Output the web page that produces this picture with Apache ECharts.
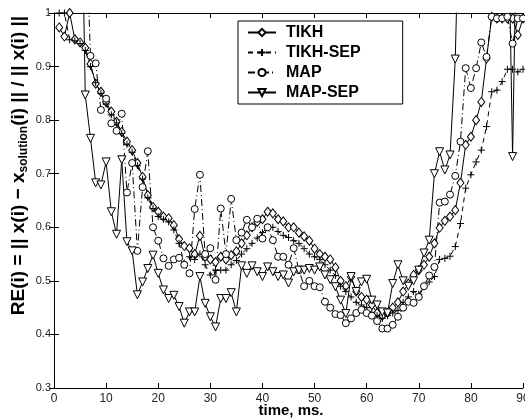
<!DOCTYPE html>
<html><head><meta charset="utf-8">
<script src="https://cdn.jsdelivr.net/npm/echarts@6/dist/echarts.min.js"></script>
<style>html,body{margin:0;padding:0;background:#fff}#c{width:525px;height:418px}</style>
</head><body><div id="c"></div>
<script>
const times = [1,2,3,4,5,6,7,8,9,10,11,12,13,14,15,16,17,18,19,20,21,22,23,24,25,26,27,28,29,30,
31,32,33,34,35,36,37,38,39,40,41,42,43,44,45,46,47,48,49,50,51,52,53,54,55,56,57,58,59,60,
61,62,63,64,65,66,67,68,69,70,71,72,73,74,75,76,77,78,79,80,81,82,83,84,85,86,87,88,89,90];
const xTicks = [0,10,20,30,40,50,60,70,80,90];
const yTicks = [0.3,0.4,0.5,0.6,0.7,0.8,0.9,1];
const names = ['TIKH','TIKH-SEP','MAP','MAP-SEP'];
const tikh = [0.973,0.956,1.0,0.951,0.945,0.935,0.905,0.868,0.853,0.834,
0.816,0.797,0.778,0.76,0.744,0.72,0.694,0.66,0.638,0.629,
0.62,0.617,0.604,0.578,0.565,0.561,0.55,0.584,0.545,0.54,
0.535,0.545,0.54,0.548,0.555,0.57,0.585,0.6,0.61,0.615,
0.629,0.626,0.615,0.611,0.6,0.6,0.59,0.583,0.575,0.56,
0.55,0.545,0.54,0.525,0.5,0.49,0.507,0.48,0.47,0.465,
0.455,0.44,0.435,0.44,0.45,0.46,0.48,0.495,0.511,0.52,
0.53,0.545,0.57,0.599,0.612,0.62,0.632,0.683,0.754,0.769,
0.8,0.834,0.915,0.993,0.99,0.99,0.99,0.99,0.959,0.99];
const tikhSep = [1.0,1.0,0.95,0.948,0.943,0.93,0.9,0.87,0.85,0.83,
0.81,0.795,0.775,0.755,0.74,0.715,0.69,0.655,0.635,0.62,
0.615,0.61,0.595,0.57,0.533,0.545,0.54,0.55,0.53,0.511,
0.52,0.52,0.52,0.53,0.538,0.55,0.56,0.57,0.58,0.59,
0.6,0.6,0.592,0.585,0.581,0.575,0.57,0.56,0.55,0.545,
0.54,0.53,0.52,0.51,0.49,0.48,0.47,0.46,0.455,0.45,
0.44,0.435,0.43,0.435,0.44,0.445,0.46,0.47,0.48,0.475,
0.49,0.498,0.508,0.54,0.542,0.546,0.564,0.607,0.673,0.698,
0.722,0.744,0.788,0.853,0.856,0.872,0.895,0.895,0.89,0.895];
const map = [1.2,1.2,1.2,1.2,1.2,1.2,0.92,0.906,0.819,0.84,
0.794,0.78,0.812,0.665,0.72,0.556,0.675,0.742,0.6,0.575,
0.542,0.528,0.54,0.543,0.53,0.514,0.634,0.698,0.55,0.561,
0.502,0.635,0.55,0.653,0.576,0.59,0.614,0.6,0.616,0.579,
0.6,0.576,0.545,0.545,0.53,0.561,0.52,0.49,0.5,0.49,
0.488,0.461,0.45,0.438,0.436,0.421,0.43,0.44,0.446,0.44,
0.435,0.425,0.411,0.411,0.418,0.433,0.45,0.461,0.459,0.47,
0.49,0.51,0.526,0.646,0.648,0.661,0.696,0.76,0.897,0.86,
0.897,0.945,0.918,0.993,0.99,0.99,0.993,0.943,0.99,0.99];
const mapSep = [1.4,1.4,1.4,1.4,1.4,0.847,0.766,0.683,0.679,0.722,
0.629,0.587,0.726,0.573,0.556,0.474,0.498,0.523,0.548,0.514,
0.483,0.467,0.473,0.452,0.421,0.442,0.442,0.508,0.458,0.433,
0.414,0.467,0.467,0.478,0.442,0.528,0.514,0.528,0.517,0.508,
0.526,0.517,0.508,0.511,0.496,0.517,0.52,0.52,0.523,0.52,
0.526,0.511,0.502,0.489,0.464,0.439,0.508,0.48,0.498,0.503,
0.464,0.455,0.442,0.44,0.495,0.53,0.5,0.49,0.5,0.52,
0.552,0.576,0.70,0.741,0.707,0.735,0.914,1.3,1.3,1.3,
1.3,1.3,1.3,1.3,1.3,1.3,1.3,0.732,1.3,1.3];

const FONT = 'Liberation Sans, Arial, sans-serif';
const pairs = arr => times.map((t, i) => [t, arr[i]]);
const fmtY = v => { const r = Math.round(v * 10) / 10; return yTicks.indexOf(r) >= 0 ? String(r) : ''; };
const fmtX = v => xTicks.indexOf(v) >= 0 ? String(v) : '';

function mk(name, data, symbol, size, lineType, rot) {
  return {
    name, type: 'line', data: pairs(data), symbol, symbolSize: size, symbolRotate: rot || 0,
    showAllSymbol: true, clip: true, animation: false,
    lineStyle: { color: '#000', width: 1, type: lineType },
    itemStyle: { color: '#fff', borderColor: '#000', borderWidth: 1 },
    emphasis: { disabled: true }
  };
}
const plusPath = 'path://M0,-5L0,5M-5,0L5,0';

const axisCommon = {
  axisLine: { show: true, lineStyle: { color: '#000', width: 1 } },
  axisTick: { show: true, inside: true, length: 5, lineStyle: { color: '#000' } },
  splitLine: { show: false },
  nameMoveOverlap: false
};

const chart = echarts.init(document.getElementById('c'), null, { renderer: 'canvas' });
chart.setOption({
  animation: false,
  backgroundColor: '#fff',
  grid: { left: 54, right: 2, top: 13, bottom: 30, containLabel: false, outerBoundsMode: 'none' },
  legend: {
    data: names, orient: 'vertical', left: 238, top: 21,
    backgroundColor: '#fff', borderColor: '#000', borderWidth: 1, borderRadius: 0,
    padding: [3, 42, 3, 9], itemGap: 3, itemWidth: 28, itemHeight: 9,
    textStyle: { fontFamily: FONT, fontWeight: 'bold', fontSize: 16, color: '#000', padding: [0, 0, 0, 5], lineHeight: 17 }
  },
  xAxis: [
    Object.assign({}, axisCommon, {
      type: 'value', min: 0, max: 90, interval: 10, position: 'bottom',
      axisLabel: { formatter: fmtX, color: '#222', fontFamily: FONT, fontSize: 12, margin: 5 },
      name: 'time, ms.', nameLocation: 'middle', nameGap: 15,
      nameTextStyle: { fontFamily: FONT, fontWeight: 'bold', fontSize: 15, color: '#000', padding: [0, 0, 0, 5] }
    }),
    Object.assign({}, axisCommon, {
      type: 'value', min: 0, max: 90, interval: 10, position: 'top', axisLabel: { show: false }
    })
  ],
  yAxis: [
    Object.assign({}, axisCommon, {
      type: 'value', min: 0.3, max: 1, interval: 0.1, position: 'left',
      axisLabel: { formatter: fmtY, color: '#222', fontFamily: FONT, fontSize: 11, margin: 3 },
      name: '{a|RE(i) = || x(i) − x}{b|solution}{a|(i) || / || x(i) ||}',
      nameLocation: 'middle', nameGap: 24, nameRotate: 90,
      nameTextStyle: {
        fontFamily: FONT, fontWeight: 'bold', fontSize: 19, color: '#000',
        padding: [0, 0, 0, 70],
        rich: {
          a: { fontFamily: FONT, fontWeight: 'bold', fontSize: 19, color: '#000', lineHeight: 21, padding: [0, 0, 5, 0], verticalAlign: 'top' },
          b: { fontFamily: FONT, fontWeight: 'bold', fontSize: 12, color: '#000', lineHeight: 13, verticalAlign: 'bottom' }
        }
      }
    }),
    Object.assign({}, axisCommon, {
      type: 'value', min: 0.3, max: 1, interval: 0.1, position: 'right', axisLabel: { show: false }
    })
  ],
  series: [
    mk(names[0], tikh, 'diamond', [7, 9], 'solid'),
    mk(names[1], tikhSep, plusPath, 7, [5, 4]),
    mk(names[2], map, 'circle', 7, [7, 3, 1, 3]),
    mk(names[3], mapSep, 'triangle', 8, 'solid', 180)
  ]
});
</script>
</body></html>
